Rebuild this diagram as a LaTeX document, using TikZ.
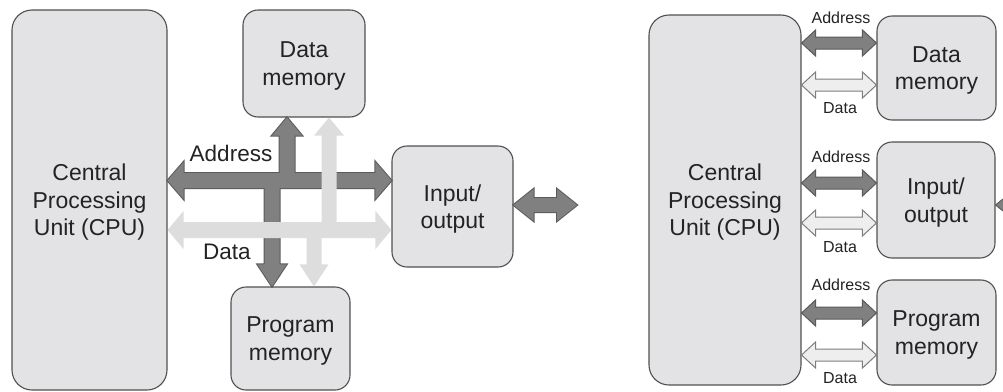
\documentclass[tikz,border=0pt]{standalone}
\usepackage{fontspec}
\setmainfont{Liberation Sans}
\usetikzlibrary{calc}

\definecolor{boxfill}{RGB}{227,227,229}
\definecolor{boxline}{RGB}{80,80,80}
\definecolor{busdark}{RGB}{128,128,128}
\definecolor{busdarkline}{RGB}{90,90,90}
\definecolor{buslight}{RGB}{221,221,221}
\definecolor{busopen}{RGB}{238,238,238}
\definecolor{busopenline}{RGB}{125,125,125}
\definecolor{inkcol}{RGB}{35,35,35}

\tikzset{
  unitbox/.style={draw=boxline, fill=boxfill, line width=1.1pt, rounded corners=15pt,
    align=center, text=inkcol, inner sep=0pt, text depth=-4pt,
    font=\fontsize{23}{27.5}\selectfont},
  cpubox/.style={unitbox, rounded corners=20pt},
  biglabel/.style={text=inkcol, inner sep=0pt, font=\fontsize{22.5}{26}\selectfont},
  smalllabel/.style={text=inkcol, inner sep=0pt, font=\fontsize{16}{19}\selectfont},
  darkedge/.style={draw=busdarkline, line width=2pt, line join=miter},
  darkfill/.style={fill=busdark},
  lightfill/.style={fill=buslight},
  openbus/.style={fill=busopen, draw=busopenline, line width=1pt},
  darkbus/.style={fill=busdark, draw=busdarkline, line width=1pt},
}

% horizontal double-headed bus: style, left end, right end, head length, head half-height, shaft half-height
\newcommand\hbus[6]{%
  \path[#1] let \p1=(#2), \p2=(#3) in
    (\x1,\y1) -- ({\x1+#4},{\y1+#5}) -- ({\x1+#4},{\y1+#6}) -- ({\x2-#4},{\y1+#6})
    -- ({\x2-#4},{\y1+#5}) -- (\x2,\y1) -- ({\x2-#4},{\y1-#5}) -- ({\x2-#4},{\y1-#6})
    -- ({\x1+#4},{\y1-#6}) -- ({\x1+#4},{\y1-#5}) -- cycle;}

% vertical single-headed bus: style, start, tip, signed head length (canvas y), head half-width, shaft half-width
\newcommand\vbus[6]{%
  \path[#1] let \p1=(#2), \p2=(#3) in
    ({\x2-#6},\y1) -- ({\x2-#6},{\y2+(#4)}) -- ({\x2-#5},{\y2+(#4)}) -- (\x2,\y2)
    -- ({\x2+#5},{\y2+(#4)}) -- ({\x2+#6},{\y2+(#4)}) -- ({\x2+#6},\y1) -- cycle;}

\begin{document}
\begin{tikzpicture}[x=1pt,y=-1pt]
\useasboundingbox (0,0) rectangle (1003,391);
\clip (0,0) rectangle (1003,391);

% ---------- shared buses ----------
\node[cpubox, minimum width=155pt, minimum height=380pt] (cpu) at (89.5,200)
  {Central\\Processing\\Unit (CPU)};
\node[unitbox, minimum width=122pt, minimum height=107pt] (dm) at (304,63.5) {Data\\memory};
\node[unitbox, minimum width=121pt, minimum height=121pt] (io) at (452.5,206.5) {Input/\\output};
\node[unitbox, minimum width=119pt, minimum height=103pt] (pm) at (290.5,338.5) {Program\\memory};

\coordinate (abus) at (0,180.5);
\coordinate (dbus) at (0,230);
\coordinate (aup) at (287,180.5);
\coordinate (adn) at (272,180.5);
\coordinate (dup) at (329,230);
\coordinate (ddn) at (314,230);
\coordinate (ext) at (577,205);

% address bus (dark): outlines first, then fills so the joins merge
\newcommand\addrbus[1]{%
  \vbus{#1}{adn}{adn |- pm.north}{22pt}{14.5pt}{7.5pt}
  \vbus{#1}{aup}{aup |- dm.south}{-18pt}{15pt}{7.5pt}
  \hbus{#1}{cpu.east |- abus}{io.west |- abus}{16pt}{18.5pt}{7.5pt}}
\addrbus{darkedge}
\addrbus{darkfill}

% data bus (light)
\vbus{lightfill}{dup}{dup |- dm.south}{-18pt}{15pt}{7.5pt}
\hbus{lightfill}{cpu.east |- dbus}{io.west |- dbus}{16pt}{19pt}{8pt}
\vbus{lightfill}{ddn}{ddn |- pm.north}{22pt}{14.5pt}{7.5pt}

\node[biglabel] (alab) at (231,153) {Address};
\node[biglabel] (dlab) at (227,252) {Data};

% external port of the I/O unit
\hbus{darkedge}{io.east |- ext}{ext}{20pt}{16pt}{7pt}
\hbus{darkfill}{io.east |- ext}{ext}{20pt}{16pt}{7pt}

% ---------- separate buses ----------
\node[cpubox, minimum width=152pt, minimum height=370pt] (cpu2) at (725,200)
  {Central\\Processing\\Unit (CPU)};
\node[unitbox, minimum width=119pt, minimum height=104pt] (dm2) at (936.5,68) {Data\\memory};
\node[unitbox, minimum width=118pt, minimum height=116pt] (io2) at (936,200) {Input/\\output};
\node[unitbox, minimum width=119pt, minimum height=105pt] (pm2) at (936.5,332.5) {Program\\memory};

\coordinate (ra1) at (0,43);
\coordinate (rd1) at (0,85);
\coordinate (ra2) at (0,183);
\coordinate (rd2) at (0,223);
\coordinate (ra3) at (0,313);
\coordinate (rd3) at (0,355);

\hbus{darkbus}{cpu2.east |- ra1}{dm2.west |- ra1}{14pt}{13pt}{6pt}
\hbus{openbus}{cpu2.east |- rd1}{dm2.west |- rd1}{14pt}{13pt}{6pt}
\hbus{darkbus}{cpu2.east |- ra2}{io2.west |- ra2}{14pt}{13pt}{6pt}
\hbus{openbus}{cpu2.east |- rd2}{io2.west |- rd2}{14pt}{13pt}{6pt}
\hbus{darkbus}{cpu2.east |- ra3}{pm2.west |- ra3}{14pt}{13pt}{6pt}
\hbus{openbus}{cpu2.east |- rd3}{pm2.west |- rd3}{14pt}{13pt}{6pt}

\node[smalllabel] (ral1) at (841,18) {Address};
\node[smalllabel] (rdl1) at (840,108) {Data};
\node[smalllabel] (ral2) at (841,157) {Address};
\node[smalllabel] (rdl2) at (840,247) {Data};
\node[smalllabel] (ral3) at (841,285) {Address};
\node[smalllabel] (rdl3) at (840,378) {Data};

\coordinate (ext2) at (1062,205);
\hbus{darkbus}{io2.east |- ext2}{ext2}{20pt}{16pt}{7pt}
\end{tikzpicture}
\end{document}
